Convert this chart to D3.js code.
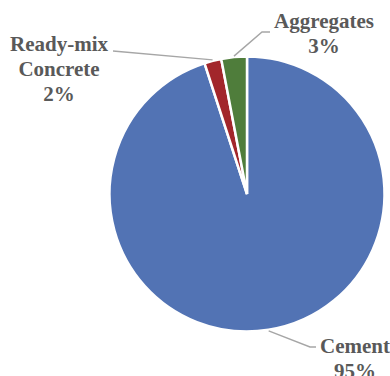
<!DOCTYPE html>
<html>
<head>
<meta charset="utf-8">
<script src="https://cdn.jsdelivr.net/npm/d3@7"></script>
<style>
  html, body { margin: 0; padding: 0; background: #fff; }
  svg { display: block; }
  text.label { font-family: "Liberation Serif", "Times New Roman", serif; font-weight: bold; font-size: 21px; }
</style>
</head>
<body>
<svg id="chart" width="390" height="376"></svg>
<script>
// Share of the construction materials market by segment (%)
const categories = ["Cement", "Ready-mix Concrete", "Aggregates"];
const shares = [95, 2, 3];
const labelLines = [["Cement", "95%"], ["Ready-mix", "Concrete", "2%"], ["Aggregates", "3%"]];
const colors = ["#5273b4", "#a2262b", "#4f7d3b"];

const width = 390, height = 376;
const cx = 247, cy = 194, radius = 137.5;

const svg = d3.select("#chart");
const g = svg.append("g").attr("transform", `translate(${cx},${cy})`);

const pie = d3.pie().sort(null).value(d => d.value);
const arcs = pie(categories.map((c, i) => ({ name: c, value: shares[i], lines: labelLines[i] })));
const arc = d3.arc().innerRadius(0).outerRadius(radius);
const color = d3.scaleOrdinal().domain(categories).range(colors);

g.selectAll("path.slice")
  .data(arcs)
  .join("path")
  .attr("class", "slice")
  .attr("d", arc)
  .attr("fill", d => color(d.data.name))
  .attr("stroke", "#fff")
  .attr("stroke-width", 2.5)
  .attr("stroke-linejoin", "miter");

// Label placement (text anchor centre, first baseline) and leader elbow per slice
const labelLayout = {
  "Cement":             { x: 355, y: 353, elbow: [310, 347], end: [316, 347] },
  "Ready-mix Concrete": { x: 59,  y: 51,  elbow: null,       end: [113, 51] },
  "Aggregates":         { x: 324, y: 28,  elbow: [262, 32],  end: [270, 32] }
};
const lineGap = 25;

const leaderStart = d => {
  const a = (d.startAngle + d.endAngle) / 2;
  const r = radius + 1;
  return [cx + r * Math.sin(a), cy - r * Math.cos(a)];
};

svg.selectAll("path.leader")
  .data(arcs)
  .join("path")
  .attr("class", "leader")
  .attr("fill", "none")
  .attr("stroke", "#a6a6a6")
  .attr("stroke-width", 1.4)
  .attr("d", d => {
    const L = labelLayout[d.data.name];
    const pts = [leaderStart(d)];
    if (L.elbow) pts.push(L.elbow);
    pts.push(L.end);
    return d3.line()(pts);
  });

const labels = svg.selectAll("text.label")
  .data(arcs)
  .join("text")
  .attr("class", "label")
  .attr("text-anchor", "middle")
  .attr("fill", "#595959");

labels.selectAll("tspan")
  .data(d => d.data.lines.map((t, i) => ({ t, i, L: labelLayout[d.data.name] })))
  .join("tspan")
  .attr("x", d => d.L.x)
  .attr("y", d => d.L.y + d.i * lineGap)
  .text(d => d.t);
</script>
</body>
</html>
